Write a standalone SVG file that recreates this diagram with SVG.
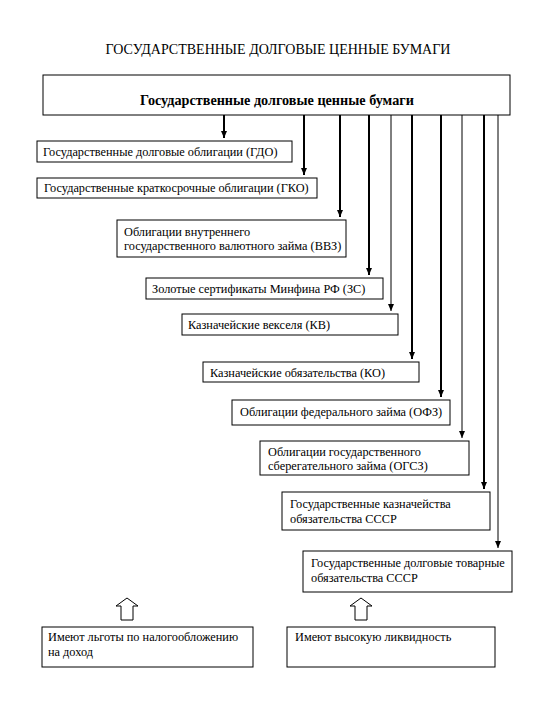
<svg xmlns="http://www.w3.org/2000/svg" width="540" height="720" viewBox="0 0 540 720">
<defs>
<style>
.box{fill:#fff;stroke:#000;stroke-width:1}
text{font-family:'Liberation Serif','Times New Roman',serif;fill:#000}
.t{font-size:12.3px}
.title{font-size:14px}
.bold{font-size:14.2px;font-weight:bold}
.thick{stroke:#000;stroke-width:2;fill:none}
.thin{stroke:#000;stroke-width:1;fill:none}
.hollow{fill:#fff;stroke:#000;stroke-width:1}
</style>
<marker id="ah" markerUnits="userSpaceOnUse" markerWidth="8" markerHeight="8" viewBox="0 0 8 8" refX="7" refY="4" orient="auto">
<path d="M0,1 L7,4 L0,7 Z" fill="#000"/>
</marker>
</defs>
<rect width="540" height="720" fill="#fff"/>
<text class="title" x="278" y="54" text-anchor="middle">ГОСУДАРСТВЕННЫЕ ДОЛГОВЫЕ ЦЕННЫЕ БУМАГИ</text>

<g id="connectors">
<line class="thick" x1="224" y1="115" x2="224" y2="138" marker-end="url(#ah)"/>
<line class="thick" x1="304" y1="115" x2="304" y2="175" marker-end="url(#ah)"/>
<line class="thick" x1="340" y1="115" x2="340" y2="217" marker-end="url(#ah)"/>
<line class="thick" x1="369" y1="115" x2="369" y2="275" marker-end="url(#ah)"/>
<line class="thin" x1="391" y1="115" x2="391" y2="311" marker-end="url(#ah)"/>
<line class="thick" x1="412" y1="115" x2="412" y2="359" marker-end="url(#ah)"/>
<line class="thick" x1="441" y1="115" x2="441" y2="397" marker-end="url(#ah)"/>
<line class="thin" x1="462" y1="115" x2="462" y2="438" marker-end="url(#ah)"/>
<line class="thick" x1="484" y1="115" x2="484" y2="489" marker-end="url(#ah)"/>
<line class="thin" x1="498" y1="115" x2="498" y2="548" marker-end="url(#ah)"/>
<path class="hollow" d="M127,598 L138,606 L133,606 L133,620 L121,620 L121,606 L116,606 Z"/>
<path class="hollow" d="M361,598 L372,606 L367,606 L367,620 L355,620 L355,606 L350,606 Z"/>
</g>

<g id="main">
<rect class="box" x="43" y="75" width="467" height="40"/>
<text class="bold" x="277" y="105" text-anchor="middle">Государственные долговые ценные бумаги</text>
</g>
<g id="gdo">
<rect class="box" x="37" y="141" width="255" height="21"/>
<text class="t" x="43" y="156">Государственные долговые облигации (ГДО)</text>
</g>
<g id="gko">
<rect class="box" x="37" y="178" width="280" height="20"/>
<text class="t" x="44" y="192">Государственные краткосрочные облигации (ГКО)</text>
</g>
<g id="bvz">
<rect class="box" x="117" y="220" width="229" height="37"/>
<text class="t" x="124" y="236">Облигации внутреннего</text>
<text class="t" x="124" y="250">государственного валютного займа (ВВЗ)</text>
</g>
<g id="zs">
<rect class="box" x="146" y="278" width="237" height="21"/>
<text class="t" x="152" y="293">Золотые сертификаты Минфина РФ (ЗС)</text>
</g>
<g id="kv">
<rect class="box" x="182" y="314" width="216" height="21"/>
<text class="t" x="188" y="329">Казначейские векселя (КВ)</text>
</g>
<g id="ko">
<rect class="box" x="203" y="362" width="216" height="20"/>
<text class="t" x="210" y="377">Казначейские обязательства (КО)</text>
</g>
<g id="ofz">
<rect class="box" x="232" y="400" width="218" height="25"/>
<text class="t" x="240" y="416">Облигации федерального займа (ОФЗ)</text>
</g>
<g id="ogsz">
<rect class="box" x="260" y="441" width="209" height="34"/>
<text class="t" x="268" y="456">Облигации государственного</text>
<text class="t" x="268" y="470">сберегательного займа (ОГСЗ)</text>
</g>
<g id="gkazo">
<rect class="box" x="282" y="492" width="208" height="38"/>
<text class="t" x="290" y="508">Государственные казначейства</text>
<text class="t" x="290" y="523">обязательства СССР</text>
</g>
<g id="gdto">
<rect class="box" x="303" y="551" width="209" height="41"/>
<text class="t" x="311" y="567">Государственные долговые товарные</text>
<text class="t" x="311" y="582">обязательства СССР</text>
</g>
<g id="tax">
<rect class="box" x="42" y="627" width="211" height="40"/>
<text class="t" x="48" y="641">Имеют льготы по налогообложению</text>
<text class="t" x="48" y="656">на доход</text>
</g>
<g id="liq">
<rect class="box" x="287" y="627" width="208" height="40"/>
<text class="t" x="295" y="641">Имеют высокую ликвидность</text>
</g>
</svg>
